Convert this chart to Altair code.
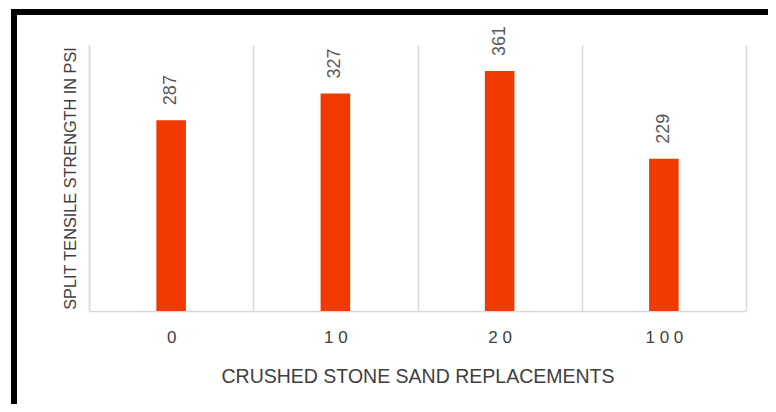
import altair as alt
import pandas as pd

categories = ["0", "10", "20", "100"]
values = [287, 327, 361, 229]

df = pd.DataFrame({"cat": categories, "val": values})

W, H = 657, 266
FONT = "Liberation Sans"

x_enc = alt.X(
    "cat:N",
    sort=categories,
    title="CRUSHED STONE SAND REPLACEMENTS",
    scale=alt.Scale(paddingInner=0, paddingOuter=0),
    axis=alt.Axis(
        labelAngle=0,
        grid=True,
        gridColor="#d9d9d9",
        gridWidth=1.5,
        tickBand="extent",
        ticks=False,
        domainColor="#d9d9d9",
        domainWidth=1.5,
        labelFont=FONT,
        labelFontSize=17,
        labelColor="#404040",
        labelPadding=18,
        labelExpr="join(split(datum.label, ''), ' ')",
        titleFont=FONT,
        titleFontSize=19.5,
        titleFontWeight="normal",
        titleColor="#404040",
        titlePadding=22,
    ),
)

y_enc = alt.Y(
    "val:Q",
    title="SPLIT TENSILE STRENGTH IN PSI",
    scale=alt.Scale(domain=[0, 400]),
    axis=alt.Axis(
        grid=False,
        labels=False,
        ticks=False,
        domainColor="#d9d9d9",
        domainWidth=1.5,
        titleFont=FONT,
        titleFontSize=16.3,
        titleFontWeight="normal",
        titleColor="#404040",
        titlePadding=11,
    ),
)

bars = alt.Chart(df).mark_bar(color="#F03A00", width={"band": 0.18}).encode(x=x_enc, y=y_enc)

labels = alt.Chart(df).mark_text(
    angle=270, align="left", baseline="middle", dx=15,
    font=FONT, fontSize=18, color="#595959",
).encode(x=alt.X("cat:N", sort=categories), y="val:Q", text="val:Q")

frame_df = pd.DataFrame({"a": [0]})
left_line = alt.Chart(frame_df).mark_rule(color="black", strokeWidth=6, strokeCap="square").encode(
    x=alt.value(-75), y=alt.value(-33), y2=alt.value(360)
)
top_line = alt.Chart(frame_df).mark_rule(color="black", strokeWidth=6, strokeCap="square").encode(
    x=alt.value(-75), x2=alt.value(680), y=alt.value(-33)
)

chart = alt.layer(bars, labels, left_line, top_line).properties(
    width=W,
    height=H,
    autosize=alt.AutoSizeParams(type="none"),
    padding={"left": 81, "top": 37, "right": 22, "bottom": 93},
).configure_view(stroke=None)

chart.save("out.html", embed_options={"renderer": "svg", "actions": False})
